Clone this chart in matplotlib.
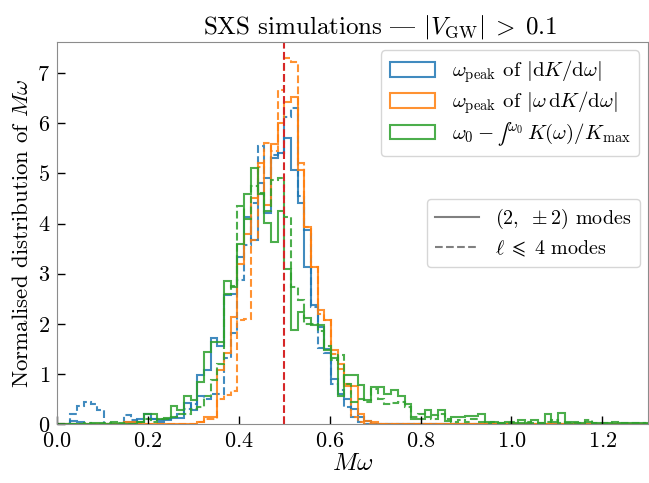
import numpy as np
import matplotlib
matplotlib.use('Agg')
import matplotlib.pyplot as plt
from matplotlib.lines import Line2D
from matplotlib.patches import Patch

plt.rcParams['font.family'] = ['cmr10', 'DejaVu Serif']
plt.rcParams['mathtext.fontset'] = 'cm'
plt.rcParams['axes.formatter.use_mathtext'] = True
plt.rcParams['font.size'] = 16

# histogram heights, bin width 1/68 in M*omega, starting at 0
bin_width = 1 / 68

blue_22 = [0, 0, 0.07, 0.04, 0, 0, 0, 0, 0, 0,
           0.04, 0.04, 0.10, 0.21, 0.10, 0.09, 0.09, 0.13, 0.13, 0.43,
           0.28, 0.98, 1.08, 1.71, 1.56, 2.57, 2.60, 3.34, 4.14, 3.67,
           4.80, 4.20, 5.30, 5.40, 5.70, 5.07, 4.41, 3.14, 2.37, 1.94,
           1.50, 0.90, 0.60, 0.50, 0.30, 0.15, 0.07, 0, 0, 0,
           0, 0, 0, 0, 0, 0, 0, 0, 0, 0,
           0, 0, 0, 0, 0, 0, 0, 0, 0, 0,
           0, 0, 0, 0, 0, 0, 0, 0, 0, 0,
           0, 0, 0, 0, 0, 0, 0, 0, 0]

blue_l4 = [0, 0, 0.20, 0.36, 0.45, 0.40, 0.28, 0, 0, 0,
           0.18, 0.09, 0.05, 0.20, 0.10, 0.05, 0.10, 0.15, 0.20, 0.30,
           0.41, 0.55, 0.50, 0.60, 0.60, 1.31, 1.81, 2.87, 3.57, 4.40,
           5.55, 4.90, 5.37, 5.40, 6.13, 6.30, 4.54, 3.87, 2.34, 1.51,
           1.41, 0.80, 0.68, 0.35, 0.15, 0.05, 0, 0, 0, 0,
           0, 0, 0, 0, 0, 0, 0, 0, 0, 0,
           0, 0, 0, 0, 0, 0, 0, 0, 0, 0,
           0, 0, 0, 0, 0, 0, 0, 0, 0, 0,
           0, 0, 0, 0, 0, 0, 0, 0, 0]

orange_22 = [0, 0, 0, 0, 0, 0, 0, 0, 0, 0,
             0.04, 0.04, 0, 0, 0, 0, 0, 0, 0, 0,
             0, 0.05, 0.15, 0.15, 1.08, 1.41, 2.14, 3.20, 3.80, 4.50,
             5.20, 4.37, 5.59, 6.00, 6.43, 6.53, 5.07, 3.94, 3.14, 2.28,
             2.08, 1.48, 1.20, 0.75, 0.75, 0.20, 0.07, 0.05, 0, 0,
             0, 0, 0, 0, 0, 0, 0, 0, 0, 0,
             0, 0, 0, 0, 0, 0, 0, 0, 0, 0,
             0, 0, 0, 0, 0, 0, 0, 0, 0, 0,
             0, 0, 0, 0, 0, 0, 0, 0, 0]

orange_l4 = [0, 0, 0, 0, 0, 0, 0, 0, 0, 0,
             0, 0, 0, 0, 0, 0, 0, 0, 0, 0,
             0, 0.05, 0.10, 0.10, 0.50, 0.58, 0.65, 2.08, 2.10, 3.67,
             5.13, 5.60, 5.45, 6.67, 7.30, 7.23, 5.20, 3.94, 3.14, 2.20,
             2.08, 1.40, 1.10, 0.80, 0.15, 0.05, 0, 0, 0, 0,
             0, 0, 0, 0, 0, 0, 0, 0, 0, 0,
             0, 0, 0, 0, 0, 0, 0, 0, 0, 0,
             0, 0, 0, 0, 0, 0, 0, 0, 0, 0,
             0, 0, 0, 0, 0, 0, 0, 0, 0]

green_22 = [0, 0, 0, 0, 0, 0.03, 0.03, 0, 0.05, 0,
            0, 0, 0.05, 0.21, 0.21, 0.11, 0.13, 0.36, 0.29, 0.55,
            0.48, 0.84, 1.44, 1.64, 1.64, 2.86, 2.73, 3.59, 4.59, 5.10,
            4.59, 4.02, 3.64, 4.24, 3.09, 1.88, 2.24, 2.11, 1.98, 1.98,
            1.48, 1.31, 0.55, 0.98, 0.98, 0.78, 0.48, 0.73, 0.73, 0.60,
            0.68, 0.55, 0.41, 0.11, 0.11, 0.28, 0.18, 0.28, 0.07, 0.15,
            0.15, 0.17, 0.16, 0.21, 0.05, 0.05, 0.03, 0.05, 0.03, 0.09,
            0.03, 0.09, 0.03, 0.20, 0.05, 0.22, 0.03, 0.05, 0.02, 0.05,
            0.02, 0.03, 0.02, 0, 0.02, 0.03, 0.03, 0.02, 0]

green_l4 = [0, 0, 0, 0, 0.03, 0, 0, 0.03, 0, 0.03,
            0, 0, 0.05, 0.10, 0.05, 0.10, 0.10, 0.15, 0.20, 0.20,
            0.30, 0.35, 0.55, 0.88, 1.20, 2.60, 2.75, 4.34, 4.10, 4.75,
            4.60, 4.25, 4.87, 4.90, 4.14, 2.74, 2.47, 2.00, 2.00, 1.85,
            1.55, 1.28, 1.38, 0.80, 0.45, 0.50, 0.45, 0.70, 0.50, 0.40,
            0.42, 0.45, 0.35, 0.15, 0.20, 0.15, 0.10, 0.20, 0.10, 0.05,
            0.08, 0.05, 0.10, 0.05, 0.03, 0.05, 0.02, 0.03, 0.05, 0.02,
            0.05, 0.02, 0.03, 0.05, 0.08, 0.02, 0.05, 0.02, 0.03, 0.08,
            0.02, 0.03, 0.02, 0.05, 0.02, 0.03, 0.02, 0.03, 0.02]

labels = [r'$\omega_{\rm peak}$ of $|{\rm d}K/{\rm d}\omega|$',
          r'$\omega_{\rm peak}$ of $|\omega\,{\rm d}K/{\rm d}\omega|$',
          r'$\omega_0 - ∫^{\omega_0}\, K(\omega)/K_{\rm max}$']
colors = ['tab:blue', 'tab:orange', 'tab:green']

fig, ax = plt.subplots(figsize=(6.49, 4.83), dpi=100)
fig.subplots_adjust(left=0.088, right=0.998, top=0.913, bottom=0.122)

handles = []
for v22, vl4, c, lab in zip([blue_22, orange_22, green_22],
                            [blue_l4, orange_l4, green_l4], colors, labels):
    edges = np.arange(len(v22) + 1) * bin_width
    ax.stairs(v22, edges, color=c, lw=1.5, alpha=0.85)
    ax.stairs(vl4, edges, color=c, lw=1.5, ls='--', alpha=0.85)
    handles.append(Patch(facecolor='none', edgecolor=c, lw=1.5, alpha=0.85, label=lab))

ax.axvline(0.5, color='tab:red', ls='--', lw=1.5)

ax.set_xlim(0, 1.3)
ax.set_ylim(0, 7.62)
ax.set_xlabel(r'$M\omega$', fontsize=18, labelpad=2)
ax.set_ylabel(r'Normalised distribution of $M\omega$', fontsize=16.5)
# em dash: in the TeX-encoded cmr10 font it sits at the '|' code point
# (its measured width is off, so the title is nudged right to sit centred)
ax.set_title(r'SXS simulations | $|V_{\rm GW}|\;>\;0.1$', fontsize=18, x=0.547)

ax.tick_params(direction='in', length=6, width=1, pad=5)
for s in ax.spines.values():
    s.set_color('0.55')

leg1 = ax.legend(handles=handles, loc='upper right', fontsize=15,
                 handlelength=2.2, borderaxespad=0.4, labelspacing=0.2)
ax.add_artist(leg1)
style_handles = [Line2D([], [], color='gray', lw=1.5, ls='-'),
                 Line2D([], [], color='gray', lw=1.5, ls='--')]
ax.legend(style_handles, [r'$(2,\ \pm 2)$ modes', r'$\ell\;\leqslant\;4$ modes'],
          loc='center right', fontsize=14.5, handlelength=2.2, borderaxespad=0.4,
          labelspacing=0.35)

fig.savefig('out.png', dpi=100)
